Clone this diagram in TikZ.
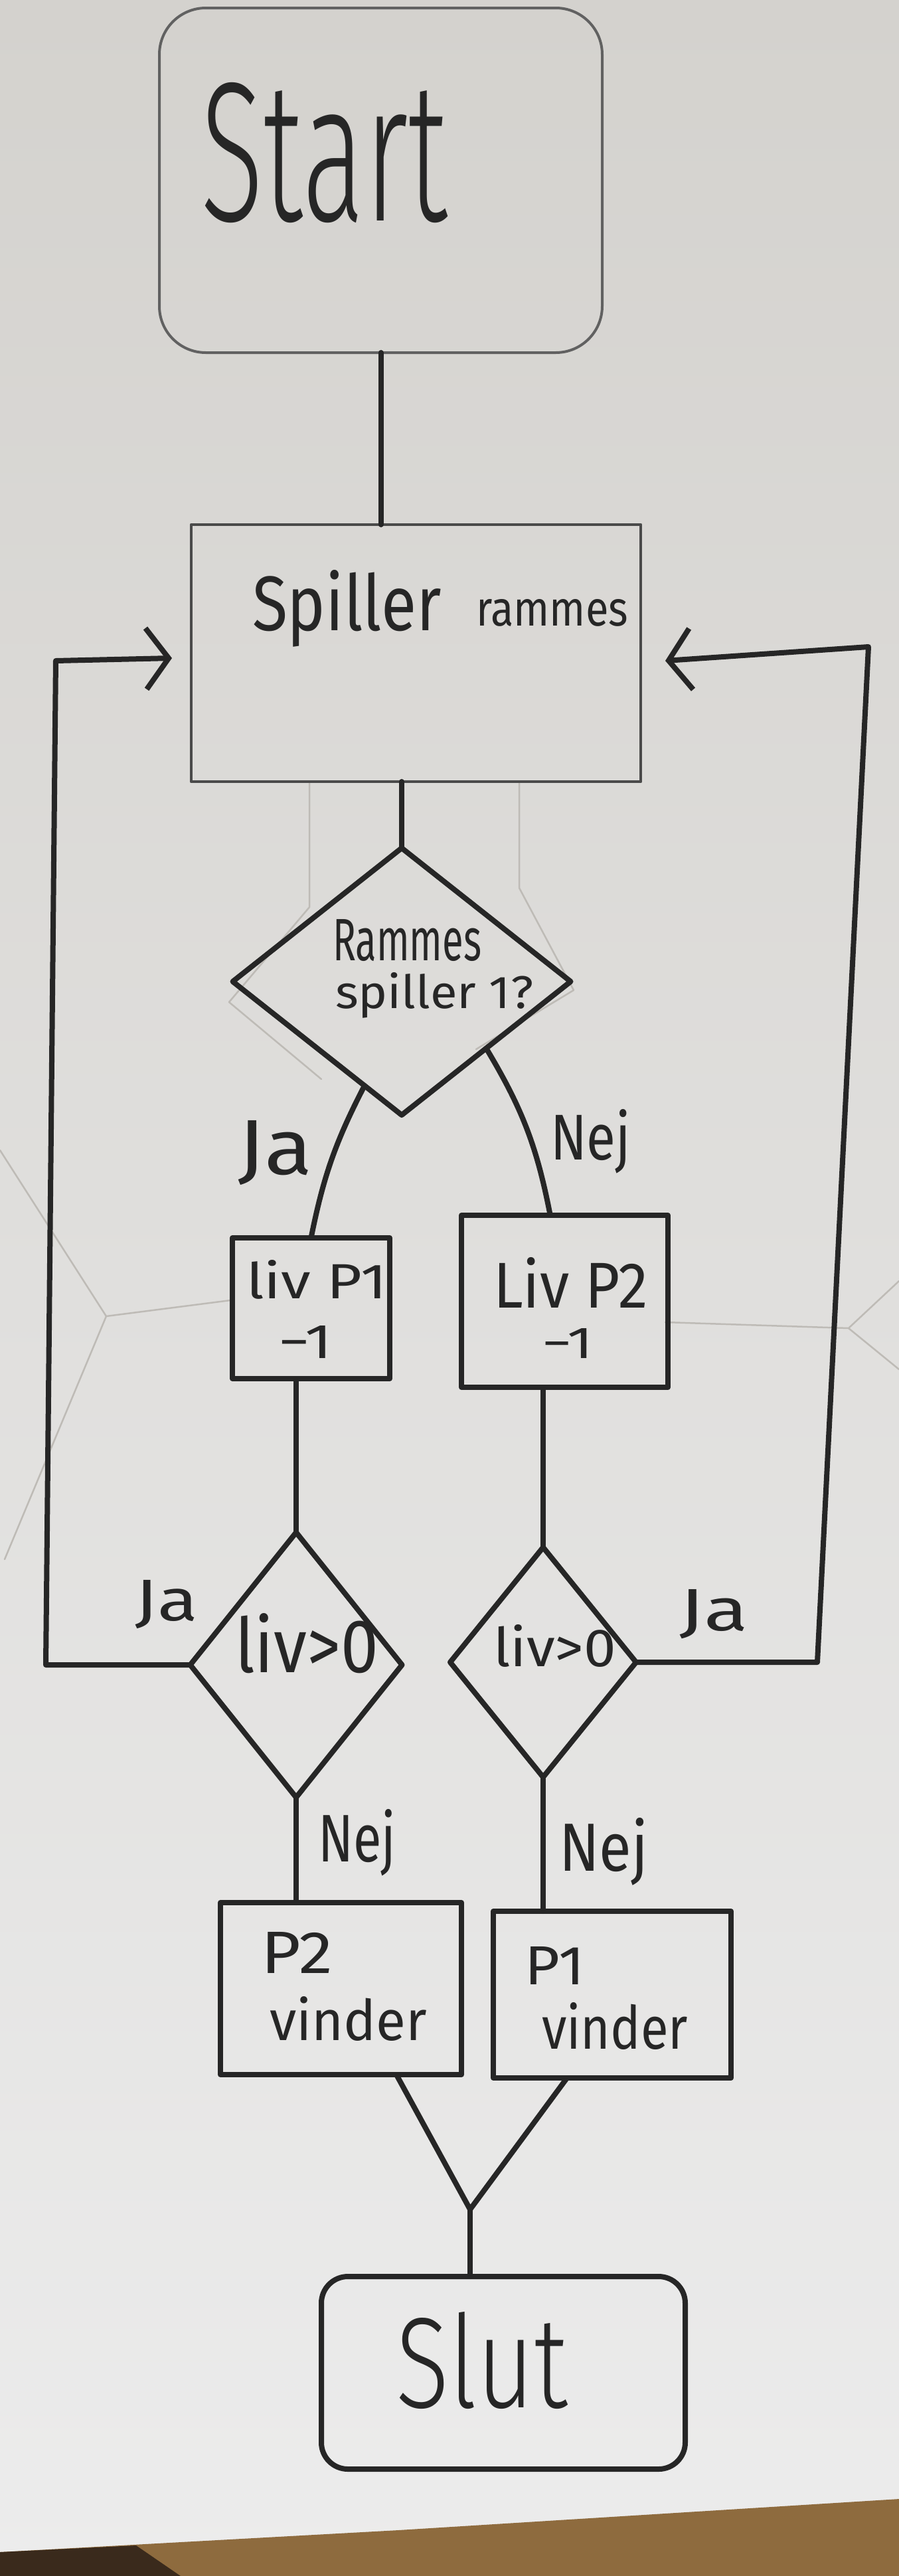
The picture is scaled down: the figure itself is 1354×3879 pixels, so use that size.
\documentclass[tikz,border=0pt]{standalone}
\usepackage{fontspec}
\usepackage{graphicx}
\setmainfont{Fira Sans}
\IfFontExistsTF{Fira Sans Light}{\newfontfamily\lightf{Fira Sans Light}}{\newfontfamily\lightf{Fira Sans}}
\usetikzlibrary{shapes.geometric,arrows.meta,calc}
\definecolor{ink}{HTML}{262626}
\definecolor{pencil}{HTML}{616161}
\definecolor{pencilb}{HTML}{4A4A4A}
\definecolor{ghost}{HTML}{BEBBB6}
\definecolor{papertop}{HTML}{D4D2CE}
\definecolor{paperbot}{HTML}{ECECEC}
\definecolor{wood}{HTML}{8E6B3E}
\definecolor{darkwood}{HTML}{3A2A1C}
\newcommand{\hw}[3]{\resizebox{#1pt}{#2pt}{#3}}
\begin{document}
\begin{tikzpicture}[x=1pt,y=-1pt,
  inkline/.style={draw=ink, line width=8pt, line cap=round, line join=round},
  boxshape/.style={rectangle, inkline, inner sep=0pt, outer sep=0pt},
  decshape/.style={diamond, inkline, inner sep=0pt, outer sep=0pt},
  txt/.style={inner sep=0pt, outer sep=0pt, anchor=base west, text=ink},
  conn/.style={draw=ink, line width=8pt, line cap=round, line join=round},
  loopback/.style={conn, -{Straight Barb[length=34pt,width=92pt]}},
  ghostline/.style={draw=ghost, line width=2.5pt, line cap=round, line join=round},
]
\useasboundingbox (0,0) rectangle (1354,3879);
% paper and table
\shade[top color=papertop, bottom color=paperbot] (0,0) rectangle (1354,3879);
\fill[wood] (0,3843) -- (600,3810) -- (1354,3763) -- (1354,3879) -- (0,3879) -- cycle;
\fill[darkwood] (0,3843) -- (205,3833) -- (272,3879) -- (0,3879) -- cycle;

% faint erased pencil traces
\draw[ghostline] (466,1177) -- (466,1366) -- (345,1509) -- (484,1625);
\draw[ghostline] (782,1177) -- (782,1337) -- (864,1491) -- (717,1580);
\draw[ghostline] (0,1732) -- (160,1982) -- (347,1958);
\draw[ghostline] (160,1982) -- (7,2348);
\draw[ghostline] (1002,1991) -- (1278,2000) -- (1354,1929);
\draw[ghostline] (1278,2000) -- (1354,2062);

% shapes
\node[boxshape, draw=pencil, line width=4pt, rounded corners=70pt, minimum width=667pt, minimum height=519pt] (start) at (573.5,271.5) {};
\node[boxshape, draw=pencilb, line width=4.5pt, minimum width=677pt, minimum height=387pt] (spill) at (626.5,983.5) {};
\node[decshape, minimum width=509pt, minimum height=402pt] (dia) at (605,1478) {};
\node[boxshape, minimum width=237pt, minimum height=212pt] (p1) at (468.5,1970) {};
\node[boxshape, minimum width=311pt, minimum height=259pt] (p2) at (850.5,1959.5) {};
\node[decshape, minimum width=319pt, minimum height=399pt] (ld) at (446,2507) {};
\node[decshape, minimum width=280pt, minimum height=346pt] (rd) at (818,2503) {};
\node[boxshape, minimum width=363pt, minimum height=259pt] (w2) at (513.5,2994.5) {};
\node[boxshape, minimum width=358pt, minimum height=251pt] (w1) at (922,3003.5) {};
\node[boxshape, rounded corners=40pt, minimum width=548pt, minimum height=290pt] (slut) at (758,3573) {};

% texts
\node[txt] (t-start) at (302,332) {\lightf\hw{372}{208}{Start}};
\node[txt] (t-spill) at (380,949) {\hw{285}{91}{Spiller}};
\node[txt] (t-ramm) at (717,942) {\hw{229}{40}{rammes}};
\node[txt] (t-dia1) at (501,1446) {\hw{224}{62}{Rammes}};
\node[txt] (t-dia2) at (505,1518) {\hw{298}{54}{spiller 1?}};
\node[txt] (t-ja1) at (358,1768) {\hw{113}{81}{Ja}};
\node[txt] (t-nej1) at (829,1746) {\hw{121}{76}{Nej}};
\node[txt] (t-p1a) at (371,1955) {\hw{212}{58}{liv P1}};
\node[txt] (t-p1b) at (419,2045) {\hw{82}{49}{−1}};
\node[txt] (t-p2a) at (743,1969) {\hw{233}{76}{Liv P2}};
\node[txt] (t-p2b) at (816,2045) {\hw{78}{45}{−1}};
\node[txt] (t-ld) at (354,2518) {\hw{216}{89}{liv>0}};
\node[txt] (t-rd) at (743,2509) {\hw{185}{63}{liv>0}};
\node[txt] (t-ja2) at (203,2440) {\hw{95}{61}{Ja}};
\node[txt] (t-ja3) at (1023,2455) {\hw{104}{62}{Ja}};
\node[txt] (t-nej2) at (479,2803) {\hw{117}{79}{Nej}};
\node[txt] (t-nej3) at (842,2817) {\hw{134}{80}{Nej}};
\node[txt] (t-w2a) at (393,2971) {\hw{108}{62}{P2}};
\node[txt] (t-w2b) at (406,3072) {\hw{237}{66}{vinder}};
\node[txt] (t-w1a) at (790,2988) {\hw{91}{57}{P1}};
\node[txt] (t-w1b) at (816,3085) {\hw{220}{70}{vinder}};
\node[txt] (t-slut) at (596,3625) {\lightf\hw{259}{144}{Slut}};

% connectors
\draw[conn] (start.south) -- (start.south |- spill.north);
\draw[conn] (dia.north |- spill.south) -- (dia.north);
\draw[conn] ($(dia.west)!0.78!(dia.south)$) to[bend right=8] (p1.north);
\draw[conn] ($(dia.east)!0.5!(dia.south)$) to[bend left=10] ($(p2.north west)!0.43!(p2.north east)$);
\draw[conn] (ld.north |- p1.south) -- (ld.north);
\draw[conn] (rd.north |- p2.south) -- (rd.north);
\draw[conn] (ld.south) -- (ld.south |- w2.north);
\draw[conn] (rd.south) -- (rd.south |- w1.north);
\coordinate (m) at (708,3327);
\draw[conn] ($(w2.south west)!0.73!(w2.south east)$) -- (m) -- ($(w1.south west)!0.31!(w1.south east)$);
\draw[conn] (m) -- (m |- slut.north);

% loops back
\coordinate (lb) at (69,2507);
\coordinate (lt) at (84,995);
\coordinate (la) at (259,991);
\draw[loopback] (ld.west) -- (lb) -- (lt) -- (la);
\coordinate (rb) at (1231,2503);
\coordinate (rt) at (1308,974);
\coordinate (ra) at (1002,995);
\draw[loopback] (rd.east) -- (rb) -- (rt) -- (ra);
\end{tikzpicture}
\end{document}
